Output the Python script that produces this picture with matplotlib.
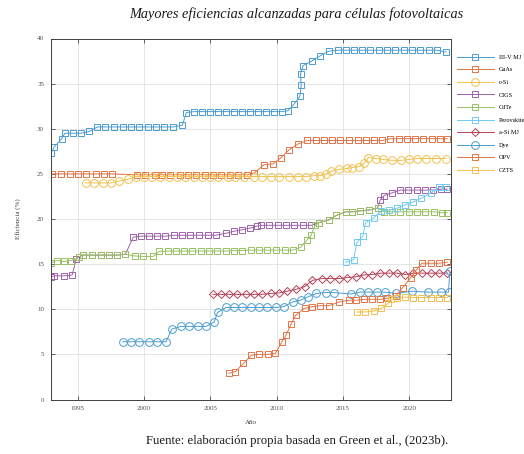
import matplotlib
matplotlib.use('Agg')
import matplotlib.pyplot as plt

# ---- data (year, efficiency %) ----

iii_v_x = [1993.0, 1993.25, 1993.8, 1994.05, 1994.65, 1995.25, 1995.9, 1996.5, 1997.1,
           1997.75, 1998.4, 1999.0, 1999.6, 2000.3, 2000.9, 2001.5, 2002.2, 2002.9, 2003.2,
           2003.8, 2004.4, 2005.0, 2005.6, 2006.2, 2006.8, 2007.4, 2008.0, 2008.6, 2009.2,
           2009.8, 2010.4, 2010.85, 2011.3, 2011.75, 2011.85, 2011.8, 2012.0, 2012.65,
           2013.3, 2013.95, 2014.6, 2015.2, 2015.8, 2016.45, 2017.05, 2017.7, 2018.3,
           2018.95, 2019.6, 2020.2, 2020.8, 2021.5, 2022.1, 2022.75]
iii_v_y = [27.3, 28.0, 28.9, 29.5, 29.5, 29.5, 29.7, 30.2, 30.2,
           30.2, 30.2, 30.2, 30.2, 30.2, 30.2, 30.2, 30.2, 30.4, 31.8,
           31.9, 31.9, 31.9, 31.9, 31.9, 31.9, 31.9, 31.9, 31.9, 31.9,
           31.9, 31.9, 32.0, 32.7, 33.6, 34.8, 36.1, 37.0, 37.5,
           38.1, 38.6, 38.7, 38.7, 38.7, 38.7, 38.7, 38.7, 38.7,
           38.7, 38.7, 38.7, 38.7, 38.7, 38.7, 38.5]

gaas_x = [1993.1, 1993.75, 1994.4, 1995.0, 1995.6, 1996.4, 1997.0, 1997.6,
          1999.5, 2000.1, 2000.8, 2001.4, 2002.0, 2002.7, 2003.3, 2003.9, 2004.6,
          2005.2, 2005.8, 2006.5, 2007.1, 2007.8, 2008.3, 2009.05, 2009.7, 2010.35,
          2010.95, 2011.6, 2012.3, 2012.95, 2013.6, 2014.2, 2014.8, 2015.45, 2016.1,
          2016.7, 2017.3, 2017.95, 2018.55, 2019.2, 2019.8, 2020.4, 2021.05, 2021.7,
          2022.3, 2022.85]
gaas_y = [25.0, 25.0, 25.0, 25.0, 25.0, 25.0, 25.0, 25.0,
          24.9, 24.9, 24.9, 24.9, 24.9, 24.9, 24.9, 24.9, 24.9,
          24.9, 24.9, 24.9, 24.9, 24.9, 25.1, 26.0, 26.1, 26.8,
          27.7, 28.3, 28.7, 28.7, 28.7, 28.7, 28.7, 28.7, 28.7,
          28.7, 28.7, 28.7, 28.9, 28.9, 28.9, 28.9, 28.9, 28.9,
          28.9, 28.9]

csi_x = [1995.6, 1996.25, 1996.9, 1997.5, 1998.1, 1998.8, 1999.4, 2000.0, 2000.6,
         2001.25, 2001.9, 2002.5, 2003.1, 2003.75, 2004.4, 2005.0, 2005.6, 2006.3,
         2006.9, 2007.55, 2008.3, 2008.9, 2009.55, 2010.2, 2010.95, 2011.6, 2012.2,
         2012.8, 2013.3, 2013.75, 2014.1, 2014.7, 2015.3, 2015.7, 2016.2, 2016.6,
         2016.9, 2017.5, 2018.0, 2018.7, 2019.4, 2020.0, 2020.6, 2021.25, 2022.0, 2022.75]
csi_y = [24.0, 24.0, 24.0, 24.0, 24.2, 24.4, 24.7, 24.7, 24.7,
         24.7, 24.7, 24.7, 24.7, 24.7, 24.7, 24.7, 24.7, 24.7,
         24.7, 24.7, 24.7, 24.7, 24.7, 24.7, 24.7, 24.7, 24.7,
         24.8, 24.8, 25.0, 25.3, 25.5, 25.6, 25.7, 25.8, 26.2,
         26.8, 26.7, 26.6, 26.5, 26.5, 26.6, 26.7, 26.7, 26.7, 26.7]

cigs_x = [1993.0, 1993.25, 1993.95, 1994.6, 1994.9, 1995.4, 1996.1, 1996.75, 1997.4,
          1998.0, 1998.6, 1999.2, 1999.75, 2000.4, 2001.0, 2001.6, 2002.3, 2002.9,
          2003.5, 2004.15, 2004.8, 2005.4, 2006.15, 2006.8, 2007.4, 2008.0, 2008.5,
          2008.8, 2009.4, 2010.1, 2010.7, 2011.3, 2011.95, 2012.6, 2013.2, 2013.95,
          2014.5, 2015.2, 2015.7, 2016.3, 2016.95, 2017.6, 2017.8, 2018.1, 2018.7,
          2019.3, 2019.9, 2020.6, 2021.2, 2021.8, 2022.4, 2022.85]
cigs_y = [13.6, 13.7, 13.7, 13.8, 15.6, 16.0, 16.0, 16.0, 16.0,
          16.0, 16.1, 18.0, 18.1, 18.1, 18.1, 18.1, 18.2, 18.2,
          18.2, 18.2, 18.2, 18.2, 18.4, 18.65, 18.8, 19.0, 19.2,
          19.3, 19.3, 19.3, 19.3, 19.3, 19.3, 19.3, 19.6, 19.9,
          20.4, 20.8, 20.8, 20.9, 21.0, 21.2, 22.1, 22.6, 22.9,
          23.2, 23.2, 23.2, 23.2, 23.2, 23.3, 23.3]

cdte_x = [1993.0, 1993.45, 1994.0, 1994.5, 1995.1, 1995.4, 1996.1, 1996.75, 1997.4,
          1998.0, 1998.6, 1999.3, 1999.9, 2000.7, 2001.15, 2001.8, 2002.4, 2003.0,
          2003.65, 2004.3, 2004.9, 2005.5, 2006.15, 2006.8, 2007.4, 2008.05, 2008.7,
          2009.3, 2009.95, 2010.6, 2011.2, 2011.8, 2012.3, 2012.6, 2012.9, 2013.2,
          2013.95, 2014.5, 2015.2, 2015.7, 2016.3, 2016.95, 2017.6, 2018.1, 2018.7,
          2019.3, 2019.95, 2020.6, 2021.2, 2021.85, 2022.45, 2022.85]
cdte_y = [15.1, 15.4, 15.3, 15.4, 15.8, 16.0, 16.0, 16.0, 16.0,
          16.0, 16.1, 15.9, 15.85, 15.85, 16.4, 16.45, 16.45, 16.45,
          16.45, 16.45, 16.45, 16.45, 16.45, 16.5, 16.5, 16.55, 16.55,
          16.55, 16.55, 16.55, 16.55, 16.85, 17.7, 18.2, 19.3, 19.6,
          19.9, 20.4, 20.8, 20.8, 20.9, 21.0, 21.2, 20.8, 20.8,
          20.8, 20.8, 20.8, 20.8, 20.8, 20.7, 20.7]

perov_x = [2015.2, 2015.8, 2016.05, 2016.5, 2016.7, 2017.3, 2017.9, 2018.5, 2019.1,
           2019.7, 2020.3, 2020.9, 2021.6, 2022.2, 2022.75]
perov_y = [15.2, 15.5, 17.4, 18.1, 19.6, 20.1, 20.9, 21.0, 21.2,
           21.6, 21.9, 22.3, 22.85, 23.5, 23.6]

asi_x = [2005.2, 2005.8, 2006.4, 2007.0, 2007.7, 2008.3, 2008.9, 2009.55, 2010.2,
         2010.8, 2011.45, 2012.1, 2012.7, 2013.4, 2014.05, 2014.7, 2015.3, 2015.95,
         2016.6, 2017.2, 2017.8, 2018.5, 2019.1, 2019.7, 2020.3, 2020.95, 2021.6,
         2022.2, 2022.85]
asi_y = [11.65, 11.65, 11.65, 11.65, 11.65, 11.65, 11.65, 11.75, 11.8,
         12.0, 12.2, 12.5, 13.2, 13.4, 13.4, 13.4, 13.5, 13.6,
         13.8, 13.85, 14.0, 14.0, 14.0, 13.85, 14.0, 14.0, 14.0,
         14.0, 14.0]

dye_x = [1998.4, 1999.0, 1999.66, 2000.36, 2001.0, 2001.67, 2002.1, 2002.8, 2003.4,
         2004.05, 2004.7, 2005.3, 2005.55, 2006.2, 2006.8, 2007.4, 2008.05, 2008.7,
         2009.3, 2009.95, 2010.55, 2011.2, 2011.8, 2012.4, 2013.0, 2013.7, 2014.3,
         2015.6, 2016.3, 2016.9, 2017.55, 2018.15, 2019.0, 2020.2, 2021.4, 2022.4,
         2022.95, 2023.05]
dye_y = [6.4, 6.4, 6.4, 6.4, 6.4, 6.4, 7.8, 8.1, 8.1,
         8.1, 8.1, 8.6, 9.65, 10.2, 10.2, 10.2, 10.2, 10.2,
         10.2, 10.2, 10.3, 10.8, 11.0, 11.4, 11.75, 11.85, 11.85,
         11.7, 11.9, 11.9, 11.9, 11.9, 11.75, 12.0, 11.9, 11.9,
         11.9, 14.2]

opv_x = [2006.4, 2006.9, 2007.5, 2008.1, 2008.7, 2009.35, 2009.9, 2010.4, 2010.7,
         2011.1, 2011.45, 2012.1, 2012.7, 2013.3, 2013.95, 2014.7, 2015.45, 2015.95,
         2016.6, 2017.2, 2017.8, 2018.3, 2019.0, 2019.5, 2020.1, 2020.5, 2020.95,
         2021.6, 2022.2, 2022.85]
opv_y = [2.9, 3.1, 4.0, 4.9, 5.0, 5.0, 5.1, 6.4, 7.1,
         8.4, 9.35, 10.1, 10.3, 10.4, 10.4, 10.8, 11.0, 11.0,
         11.1, 11.1, 11.1, 11.2, 11.5, 12.4, 13.5, 14.3, 15.1,
         15.1, 15.1, 15.2]

czts_x = [2016.05, 2016.65, 2017.3, 2017.9, 2018.4, 2018.6, 2019.1, 2019.7, 2020.3,
          2020.9, 2021.6, 2022.2, 2022.85]
czts_y = [9.7, 9.7, 9.8, 10.1, 10.65, 11.1, 11.2, 11.35, 11.3,
          11.3, 11.3, 11.3, 11.3]

labels = ['III-V MJ', 'GaAs', 'c-Si', 'CIGS', 'CdTe', 'Perovskite', 'a-Si MJ',
          'Dye', 'OPV', 'CZTS']

#%% styles (faded MATLAB default colour order)

colors = ['#4d9cd1', '#e17547', '#f1c14d', '#9e63aa', '#99c164', '#71cbf1',
          '#b54359', '#4d9cd1', '#e17547', '#f1c14d']
markers = ['s', 's', 'o', 's', 's', 's', 'D', 'o', 's', 's']
sizes = [4.6, 4.6, 5.6, 4.6, 4.6, 4.6, 4.4, 5.6, 4.6, 4.6]

series = [(iii_v_x, iii_v_y), (gaas_x, gaas_y), (csi_x, csi_y), (cigs_x, cigs_y),
          (cdte_x, cdte_y), (perov_x, perov_y), (asi_x, asi_y), (dye_x, dye_y),
          (opv_x, opv_y), (czts_x, czts_y)]

serif = 'Liberation Serif'

#%% plot

fig = plt.figure(figsize=(5.24, 4.54), dpi=100)
ax = fig.add_axes([51/524, 1 - 399.5/454, 399.5/524, 361/454])

for (xs, ys), lab, c, m, ms in zip(series, labels, colors, markers, sizes):
    ax.plot(xs, ys, color=c, lw=0.7, marker=m, ms=ms, mfc='none', mew=0.7,
            label=lab)

ax.set_xlim(1993, 2023.1)
ax.set_ylim(0, 40)
ax.set_xticks([1995, 2000, 2005, 2010, 2015, 2020])
ax.set_yticks(range(0, 41, 5))

ax.grid(True, color='#e0e0e0', lw=0.6)
ax.set_axisbelow(True)
ax.tick_params(direction='in', top=True, right=True, length=3, width=0.5,
               labelsize=5, colors='#262626', labelcolor='#505050', pad=5)
for lab in ax.get_xticklabels() + ax.get_yticklabels():
    lab.set_fontfamily(serif)
for s in ax.spines.values():
    s.set_color('#404040')
    s.set_linewidth(0.7)

ax.set_xlabel('Año', fontsize=5, family=serif, color='#404040')
ax.set_ylabel('Eficiencia (%)', fontsize=5, family=serif, color='#404040')
ax.xaxis.set_label_coords(0.5, -0.065)
ax.xaxis.label.set_va('center')
ax.yaxis.set_label_coords(-0.083, 0.5)
ax.yaxis.label.set_va('center')

fig.legend(loc='upper left', bbox_to_anchor=(457/524, 1 - 54.5/454), frameon=False,
           prop={'family': serif, 'size': 4.5}, handlelength=5.9, handletextpad=0.8,
           labelspacing=1.15, borderpad=0, borderaxespad=0)

fig.text(296/524, 1 - 14/454, 'Mayores eficiencias alcanzadas para células fotovoltaicas',
         ha='center', va='center', fontsize=10.3, style='italic', family=serif,
         color='#1a1a1a')
fig.text(297/524, 1 - 441/454, 'Fuente: elaboración propia basada en Green et al., (2023b).',
         ha='center', va='center', fontsize=9.2, family=serif, color='#1a1a1a')

plt.savefig('out.png', dpi=100)
